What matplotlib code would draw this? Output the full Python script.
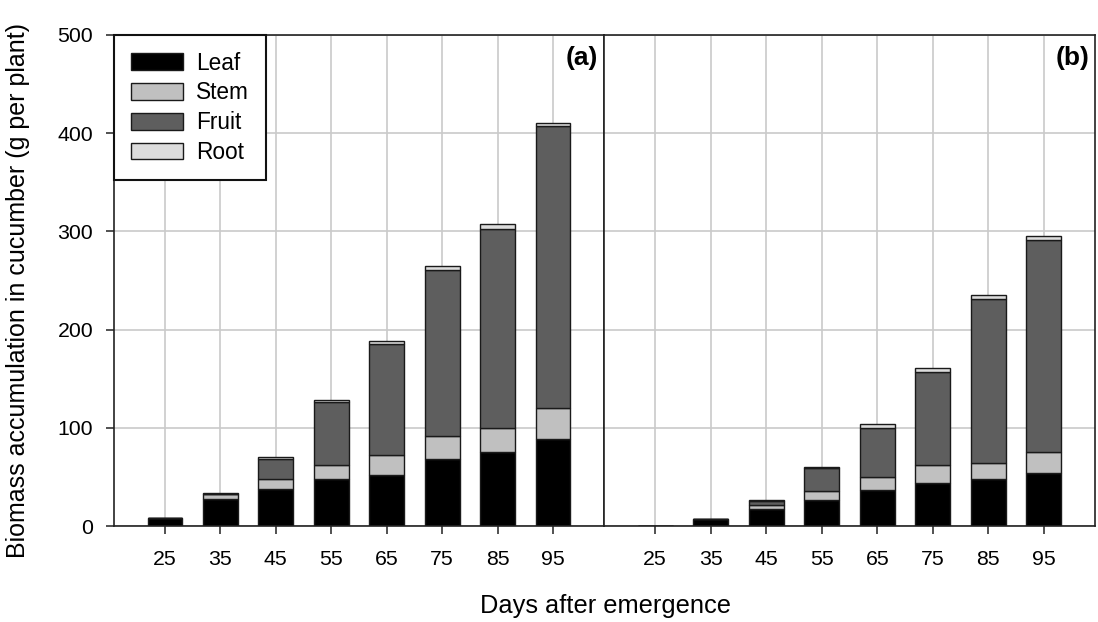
import matplotlib
matplotlib.use("Agg")
import matplotlib.pyplot as plt
import numpy as np

plt.rcParams['font.family'] = ['Liberation Sans', 'DejaVu Sans']

# Days after emergence
days = [25, 35, 45, 55, 65, 75, 85, 95]

# Panel (a): biomass per organ (g per plant)
a_leaf = [8.4, 27, 38, 48, 52, 68, 75, 88.5]
a_stem = [0, 5.5, 10, 14, 20, 23.5, 25, 31.5]
a_fruit = [0, 0, 20, 64.5, 113, 169, 202, 287]
a_root = [0, 0.8, 1.8, 2.3, 3.5, 4.5, 5.5, 3.7]

# Panel (b): biomass per organ (g per plant)
b_leaf = [0.5, 6.8, 17, 26.5, 37, 44, 48, 54]
b_stem = [0, 0, 4, 9.5, 13, 18, 16, 21]
b_fruit = [0, 0, 4, 23, 50, 95, 167, 216]
b_root = [0, 0, 1.8, 1.4, 3.4, 3.5, 4.4, 4]

organs = ['Leaf', 'Stem', 'Fruit', 'Root']
colors = ['#000000', '#c0c0c0', '#5e5e5e', '#dcdcdc']
edge = '#1a1a1a'

W, H = 1098, 622
fig = plt.figure(figsize=(W / 100, H / 100), dpi=100)

bottom_px, top_px = 526, 35
ax_a = fig.add_axes([114 / W, 1 - bottom_px / H, 490 / W, (bottom_px - top_px) / H])
ax_b = fig.add_axes([604 / W, 1 - bottom_px / H, 491 / W, (bottom_px - top_px) / H])

x = np.arange(len(days))
bar_w = 0.63
tick_fs = 15.3


def draw_panel(ax, series, tag):
    base = np.zeros(len(days))
    handles = []
    for vals, col, name in zip(series, colors, organs):
        vals = np.asarray(vals, dtype=float)
        h = ax.bar(x, vals, bar_w, bottom=base, color=col, edgecolor=edge,
                   linewidth=1.0, label=name, zorder=3)
        handles.append(h)
        base = base + vals
    ax.set_xlim(-0.92, len(days) - 1 + 0.92)
    ax.set_ylim(0, 500)
    ax.set_xticks(x)
    ax.set_xticklabels([str(d) for d in days], fontsize=tick_fs)
    ax.set_yticks(np.arange(0, 501, 100))
    ax.grid(True, color='#cacaca', linewidth=1.2, zorder=0)
    ax.set_axisbelow(True)
    for s in ax.spines.values():
        s.set_linewidth(1.2)
        s.set_color('#222222')
        s.set_zorder(4)
    ax.tick_params(axis='x', direction='out', length=6, width=1.1,
                   color='#222222', pad=11)
    ax.annotate(tag, xy=(1, 1), xycoords='axes fraction', xytext=(-4, -8),
                textcoords='offset points', ha='right', va='top',
                fontsize=19, fontweight='bold', zorder=6)
    return handles


handles = draw_panel(ax_a, [a_leaf, a_stem, a_fruit, a_root], '(a)')
draw_panel(ax_b, [b_leaf, b_stem, b_fruit, b_root], '(b)')

ax_a.set_yticklabels([str(v) for v in range(0, 501, 100)], fontsize=tick_fs)
ax_a.tick_params(axis='y', direction='out', length=6, width=1.1,
                 color='#222222', pad=9)
ax_b.tick_params(axis='y', left=False, labelleft=False)

leg = ax_a.legend(handles=handles, labels=organs, loc='upper left',
                  bbox_to_anchor=(0, 1), borderaxespad=0, fontsize=16.3,
                  frameon=True, fancybox=False, framealpha=1,
                  edgecolor='#111111', handlelength=2.3, handleheight=0.77,
                  handletextpad=0.6, labelspacing=0.3, borderpad=0.73)
leg.get_frame().set_linewidth(1.5)
leg.set_zorder(5)

fig.text(606 / W, 1 - 606 / H, 'Days after emergence', ha='center',
         va='center', fontsize=18.3)
fig.text(18 / W, 1 - 290 / H, 'Biomass accumulation in cucumber (g per plant)',
         ha='center', va='center', rotation=90, fontsize=18.0)

fig.savefig('out.png', dpi=100, facecolor='white')
